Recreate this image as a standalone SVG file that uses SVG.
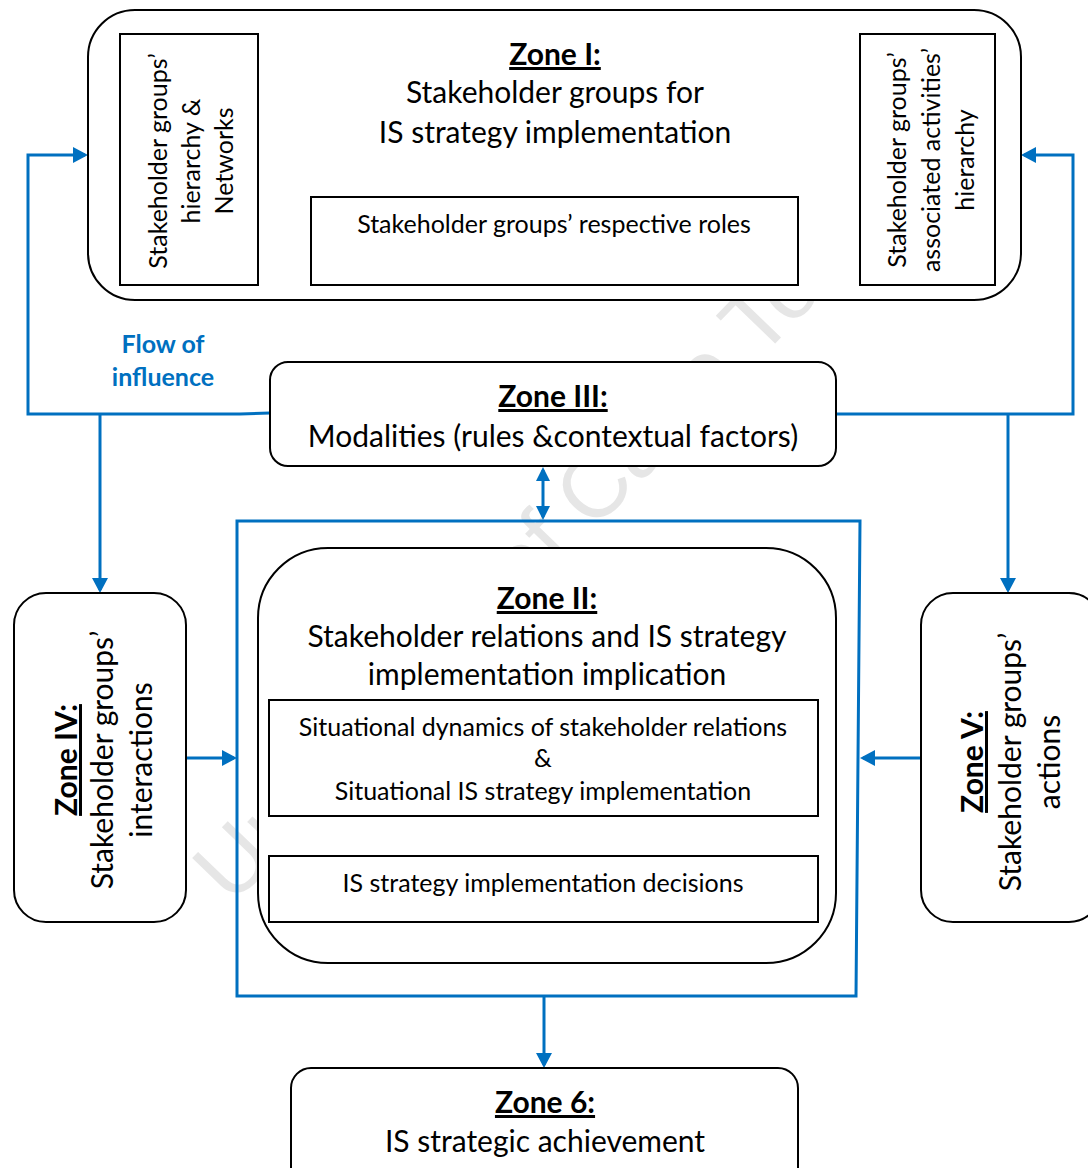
<svg xmlns="http://www.w3.org/2000/svg" width="1088" height="1168" viewBox="0 0 1088 1168">
  <style>
    .t { font-family: Lato, "Open Sans", "Liberation Sans", sans-serif; fill: #000; text-anchor: middle; }
    .big { font-size: 30px; }
    .sm { font-size: 25px; }
    .zt { font-weight: bold; text-decoration: underline; }
    .blue { fill: #0070C0; font-weight: bold; font-size: 25px; }
    .box { fill: #fff; stroke: #000; stroke-width: 2; }
    .conn { fill: none; stroke: #0070C0; stroke-width: 3; }
    .wm { font-family: "Liberation Sans", sans-serif; font-size: 90px; fill: #e6e6e6; }
  </style>
  <defs>
    <marker id="ah" markerUnits="userSpaceOnUse" markerWidth="16" markerHeight="16" refX="12" refY="8" orient="auto-start-reverse">
      <path d="M0,0 L15,8 L0,16 Z" fill="#0070C0"/>
    </marker>
    <marker id="ahs" markerUnits="userSpaceOnUse" markerWidth="15" markerHeight="14" refX="11" refY="7" orient="auto-start-reverse">
      <path d="M0,0 L14,7 L0,14 Z" fill="#0070C0"/>
    </marker>
  </defs>

  <rect width="1088" height="1168" fill="#fff"/>

  <!-- background watermark -->
  <text class="wm" transform="translate(232,906) rotate(-46)">University of Cape Town</text>

  <!-- connectors -->
  <g id="connectors">
    <path class="conn" d="M837,414 H1073 V155 H1024" marker-end="url(#ah)"/>
    <path class="conn" d="M270,413 L240,414 H28 V155 H85" marker-end="url(#ah)"/>
    <path class="conn" d="M100,414 V590" marker-end="url(#ah)"/>
    <path class="conn" d="M1008,414 V590" marker-end="url(#ah)"/>
    <path class="conn" d="M226,266 H337" marker-start="url(#ahs)" marker-end="url(#ahs)"/>
    <path class="conn" d="M763,266 H873" marker-start="url(#ahs)" marker-end="url(#ahs)"/>
    <path class="conn" d="M543,470 V517" marker-start="url(#ahs)" marker-end="url(#ahs)"/>
    <path class="conn" d="M543,820 V853" marker-start="url(#ahs)" marker-end="url(#ahs)"/>
    <path class="conn" d="M186,758 H234" marker-end="url(#ah)"/>
    <path class="conn" d="M921,758 H863" marker-end="url(#ah)"/>
    <path class="conn" d="M544,996 V1065" marker-end="url(#ah)"/>
    <path class="conn" d="M237,521 H860 L856,996 H237 Z"/>
  </g>

  <!-- Zone I -->
  <g id="zone1">
    <rect class="box" x="88" y="10" width="933" height="290" rx="47"/>
    <text class="t big zt" x="555" y="65">Zone I:</text>
    <text class="t big" x="555" y="103">Stakeholder groups for</text>
    <text class="t big" x="555" y="143">IS strategy implementation</text>
  </g>
  <g id="hierarchy">
    <rect class="box" x="120" y="34" width="138" height="251"/>
    <g transform="translate(0,161) rotate(-90)">
      <text class="t sm" x="0" y="167">Stakeholder groups’</text>
      <text class="t sm" x="0" y="200">hierarchy &amp;</text>
      <text class="t sm" x="0" y="233">Networks</text>
    </g>
  </g>
  <g id="roles">
    <rect class="box" x="311" y="197" width="487" height="88"/>
    <text class="t sm" x="554" y="233">Stakeholder groups’ respective roles</text>
  </g>
  <g id="activities">
    <rect class="box" x="860" y="34" width="135" height="251"/>
    <g transform="translate(0,160) rotate(-90)">
      <text class="t sm" x="0" y="906">Stakeholder groups’</text>
      <text class="t sm" x="0" y="940">associated activities’</text>
      <text class="t sm" x="0" y="974">hierarchy</text>
    </g>
  </g>

  <!-- Flow label -->
  <g id="flow-label">
    <text class="t blue" x="163" y="353">Flow of</text>
    <text class="t blue" x="163" y="386">influence</text>
  </g>

  <!-- Zone III -->
  <g id="zone3">
    <rect class="box" x="270" y="362" width="566" height="104" rx="18"/>
    <text class="t big zt" x="553" y="407">Zone III:</text>
    <text class="t big" x="553" y="447">Modalities (rules &amp;contextual factors)</text>
  </g>

  <!-- Zone II -->
  <g id="zone2">
    <rect class="box" x="258" y="548" width="578" height="415" rx="70"/>
    <text class="t big zt" x="547" y="609">Zone II:</text>
    <text class="t big" x="547" y="647">Stakeholder relations and IS strategy</text>
    <text class="t big" x="547" y="685">implementation implication</text>
  </g>
  <g id="dynamics">
    <rect class="box" x="269" y="700" width="549" height="116"/>
    <text class="t sm" x="543" y="736">Situational dynamics of stakeholder relations</text>
    <text class="t sm" x="543" y="767">&amp;</text>
    <text class="t sm" x="543" y="800">Situational IS strategy implementation</text>
  </g>
  <g id="decisions">
    <rect class="box" x="269" y="856" width="549" height="66"/>
    <text class="t sm" x="543" y="892">IS strategy implementation decisions</text>
  </g>

  <!-- Zone IV -->
  <g id="zone4">
    <rect class="box" x="14" y="593" width="172" height="329" rx="32"/>
    <g transform="translate(0,760) rotate(-90)">
      <text class="t big zt" x="0" y="77">Zone IV:</text>
      <text class="t big" x="0" y="113">Stakeholder groups’</text>
      <text class="t big" x="0" y="152">interactions</text>
    </g>
  </g>

  <!-- Zone V -->
  <g id="zone5">
    <rect class="box" x="921" y="593" width="180" height="329" rx="32"/>
    <g transform="translate(0,762) rotate(-90)">
      <text class="t big zt" x="0" y="983">Zone V:</text>
      <text class="t big" x="0" y="1021">Stakeholder groups’</text>
      <text class="t big" x="0" y="1060">actions</text>
    </g>
  </g>

  <!-- Zone 6 -->
  <g id="zone6">
    <rect class="box" x="291" y="1068" width="507" height="120" rx="20"/>
    <text class="t big zt" x="545" y="1113">Zone 6:</text>
    <text class="t big" x="545" y="1152">IS strategic achievement</text>
  </g>
</svg>
